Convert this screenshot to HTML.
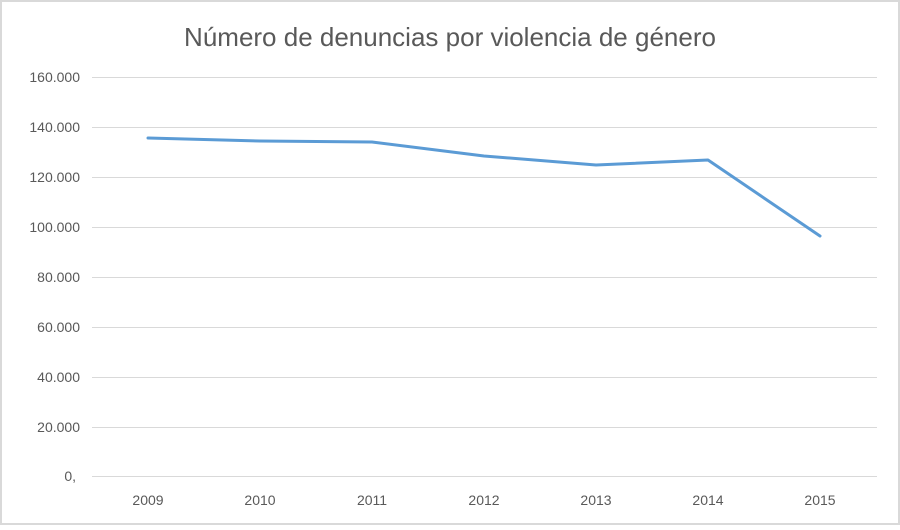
<!DOCTYPE html>
<html><head><meta charset="utf-8"><style>
html,body{margin:0;padding:0;background:#fff}
body{width:900px;height:525px;overflow:hidden}
</style></head><body>
<svg width="900" height="525" xmlns="http://www.w3.org/2000/svg" font-family="Liberation Sans, sans-serif">
<rect x="1" y="1" width="898" height="523" fill="#fff" stroke="#d9d9d9" stroke-width="2"/>
<text x="450" y="46" text-anchor="middle" font-size="26" fill="#595959">Número de denuncias por violencia de género</text>
<g stroke="#d9d9d9" stroke-width="1">
<line x1="92" x2="877" y1="77.5" y2="77.5"/>
<line x1="92" x2="877" y1="127.5" y2="127.5"/>
<line x1="92" x2="877" y1="177.5" y2="177.5"/>
<line x1="92" x2="877" y1="227.5" y2="227.5"/>
<line x1="92" x2="877" y1="277.5" y2="277.5"/>
<line x1="92" x2="877" y1="327.5" y2="327.5"/>
<line x1="92" x2="877" y1="377.5" y2="377.5"/>
<line x1="92" x2="877" y1="427.5" y2="427.5"/>
<line x1="92" x2="877" y1="476.5" y2="476.5"/>
</g>
<g font-size="14" fill="#595959" text-anchor="end">
<text x="80" y="82">160.000</text>
<text x="80" y="132">140.000</text>
<text x="80" y="182">120.000</text>
<text x="80" y="232">100.000</text>
<text x="80" y="282">80.000</text>
<text x="80" y="332">60.000</text>
<text x="80" y="382">40.000</text>
<text x="80" y="432">20.000</text>
<text x="76" y="481">0,</text>
</g>
<g font-size="14" fill="#595959" text-anchor="middle">
<text x="148" y="505">2009</text>
<text x="260" y="505">2010</text>
<text x="372" y="505">2011</text>
<text x="484" y="505">2012</text>
<text x="596" y="505">2013</text>
<text x="708" y="505">2014</text>
<text x="820" y="505">2015</text>
</g>
<polyline fill="none" stroke="#5b9bd5" stroke-width="3" stroke-linejoin="round" stroke-linecap="round"
points="148,138 260,141 372,142 484,156 596,165 708,160 820,236"/>
</svg>
</body></html>
